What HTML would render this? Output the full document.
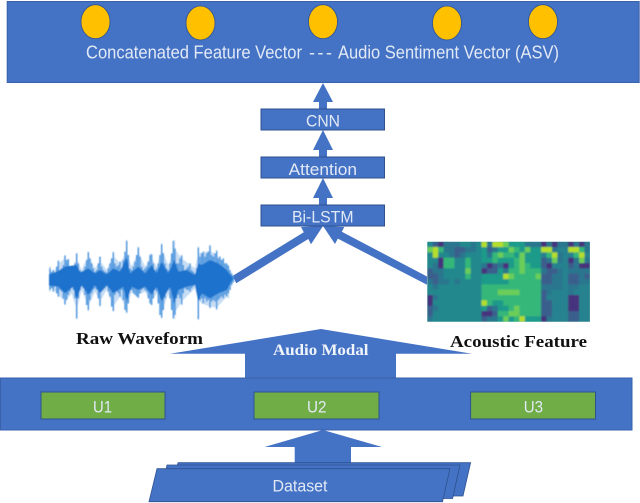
<!DOCTYPE html>
<html>
<head>
<meta charset="utf-8">
<style>
html,body{margin:0;padding:0;background:#fff;}
svg{display:block;}
.s{font-family:"Liberation Sans",sans-serif;fill:#e2e9f6;font-size:17px;}
.b{font-family:"Liberation Serif",serif;font-weight:bold;font-size:17px;fill:#111;}
</style>
</head>
<body>
<svg width="640" height="503" viewBox="0 0 640 503" xmlns="http://www.w3.org/2000/svg">
<defs>
<filter id="w" x="-5%" y="-5%" width="110%" height="110%"><feGaussianBlur stdDeviation="1.2"/></filter>
<filter id="h" x="-5%" y="-5%" width="110%" height="110%"><feGaussianBlur stdDeviation="0.14"/></filter>
<clipPath id="hc"><rect x="0" y="0" width="30" height="15"/></clipPath>
</defs>
<rect width="640" height="503" fill="#fff"/>

<!-- top box -->
<rect x="7.2" y="1.5" width="632" height="81" fill="#4472c4" stroke="#3a62ab" stroke-width="1"/>
<g fill="#ffc000" stroke="#2f528f" stroke-width="0.8">
<ellipse cx="95.5" cy="21.7" rx="14.5" ry="17"/>
<ellipse cx="200.5" cy="23" rx="14.5" ry="17"/>
<ellipse cx="323" cy="21.7" rx="14.5" ry="17"/>
<ellipse cx="447" cy="23" rx="14.5" ry="17"/>
<ellipse cx="543" cy="21.7" rx="14.5" ry="17"/>
</g>
<g style="font-size:18px">
<text class="s" style="font-size:18px" x="86" y="58.5" textLength="216" lengthAdjust="spacingAndGlyphs">Concatenated Feature Vector</text>
<text class="s" style="font-size:18px" x="309" y="58.5" textLength="23" lengthAdjust="spacing">---</text>
<text class="s" style="font-size:18px" x="338" y="58.5" textLength="221" lengthAdjust="spacingAndGlyphs">Audio Sentiment Vector (ASV)</text>
</g>

<!-- vertical arrows -->
<g fill="#4472c4">
<polygon points="323,83 333,102 327,102 327,109 319,109 319,102 313,102"/>
<polygon points="323,130 333,150 327,150 327,157 319,157 319,150 313,150"/>
<polygon points="323,178 333,198 327,198 327,205 319,205 319,198 313,198"/>
<!-- diagonal arrows -->
<polygon points="232.5,276 303.8,232.2 301,227 323,226 311,244.3 308.3,239 236.3,283.2"/>
<polygon points="427,276.5 341.8,231.8 344.3,227 323,226 335,244 337.8,238.6 427,284.8"/>
</g>

<!-- stack boxes -->
<g fill="#4472c4" stroke="#2f528f" stroke-width="1">
<rect x="261" y="109" width="123.5" height="21"/>
<rect x="261" y="157" width="123.5" height="21"/>
<rect x="261" y="205" width="123.5" height="21"/>
</g>
<text class="s" x="306" y="126.5" textLength="34" lengthAdjust="spacingAndGlyphs">CNN</text>
<text class="s" x="288.6" y="175" textLength="68.4" lengthAdjust="spacingAndGlyphs">Attention</text>
<text class="s" x="292" y="222.7" textLength="61.5" lengthAdjust="spacingAndGlyphs">Bi-LSTM</text>

<!-- waveform -->
<g transform="translate(45,235) scale(0.33333)" filter="url(#w)">
<path fill="none" stroke="#c4dcf3" stroke-width="5" d="M15 95V170M40 75V185M60 60V210M95 55V252M130 50V228M165 65V215M205 50V230M245 15V235M280 35V190M318 55V210M350 25V250M388 15V252M410 60V210M460 35V255M495 30V220M515 45V225M550 90V190"/>
<polygon fill="#c6ddf4" points="12,125 30,105 40,85 60,70 80,105 95,70 110,105 130,62 150,100 165,78 185,105 205,62 225,85 245,50 260,95 280,50 300,95 318,65 335,95 350,42 370,90 388,40 410,70 430,85 450,100 460,55 495,48 515,58 550,95 567,132 550,180 515,218 495,215 470,205 460,195 450,160 410,200 388,235 370,175 350,235 335,175 318,200 300,170 280,180 260,170 245,220 225,185 205,215 185,165 165,200 150,170 130,215 110,165 95,225 80,175 60,200 40,180 12,150"/>
<path fill="none" stroke="#3f92dd" stroke-width="4" d="M15 100V165M20 110V160M25 105V170M30 112V155M35 95V175M40 78V185M45 105V165M50 100V170M55 90V190M60 62V208M65 75V195M70 72V180M75 95V170M80 112V155M85 100V165M90 85V190M95 55V250M100 85V190M105 105V165M110 112V155M115 110V160M120 95V180M125 75V210M130 52V225M135 70V195M140 85V175M145 100V165M150 110V160M155 105V165M160 85V190M165 65V212M170 95V170M175 105V165M180 110V160M185 112V155M190 100V170M195 85V185M200 70V215M205 52V228M210 85V180M215 95V170M220 90V175M225 80V185M230 100V165M235 75V195M240 50V225M245 18V232M250 60V205M255 100V165M260 105V165M265 95V175M270 80V180M275 60V185M280 38V188M285 65V175M290 95V165M295 105V160M300 100V165M305 95V170M310 80V190M315 60V205M320 58V210M325 85V190M330 105V165M335 100V170M340 85V205M345 60V240M350 28V248M355 55V225M360 85V190M365 100V170M370 105V165M375 85V190M380 55V225M385 18V250M390 40V240M395 85V190M400 85V180M405 70V190M410 62V208M415 90V175M420 105V160M425 100V165M430 95V165M435 85V170M440 105V160M445 110V155M450 115V150M455 100V170M460 38V252M465 65V195M470 55V190M475 50V205M480 65V190M485 55V200M490 50V195M495 32V218M500 60V200M505 65V195M510 55V200M515 48V222M520 70V195M525 65V190M530 75V185M535 70V190M540 85V180M545 85V185M550 92V175M555 105V165M560 115V150M565 122V142"/>
<polygon fill="#1a72cc" points="12,118 40,108 60,95 95,90 105,112 130,100 150,115 165,105 185,118 205,100 225,110 245,65 255,115 280,95 300,115 320,90 335,115 350,80 370,115 388,75 400,110 425,105 450,120 460,85 470,90 495,75 520,85 545,105 565,130 545,165 520,175 495,190 470,175 460,200 450,150 425,155 400,165 388,205 375,155 350,200 335,155 320,180 300,155 280,165 260,155 245,200 235,155 205,175 185,150 165,175 150,150 130,180 110,150 95,195 85,155 60,175 40,155 12,152"/>
</g>

<!-- heatmap -->
<g transform="translate(427.3,241.7) scale(5.42,5.333)">
<g clip-path="url(#hc)"><g filter="url(#h)">
<rect x="-1" y="-1" width="32" height="17" fill="#23888e"/>
<rect x="10" y="-1" width="11" height="17" fill="#1f9a8a"/>
<rect x="15" y="5" width="6" height="9" fill="#35b779"/>
<rect x="10" y="8" width="5" height="3" fill="#35b779"/>
<rect x="21" y="-1" width="10" height="17" fill="#26828e"/>
<g fill="none" stroke-width="1.02">
<path stroke="#2a768e" d="M3 .5h3M8 .5h1M11 .5h1M18 .5h3M22 .5h1M24 .5h2M27 .5h1M29 .5h1M3 1.5h2M7 1.5h2M12 1.5h1M23 1.5h1M29 1.5h1M4 2.5h1M6 2.5h1M11 2.5h1M24 2.5h1M22 3.5h1M24 3.5h1M27 3.5h1M29 3.5h1M1 4.5h1M10 4.5h1M13 4.5h1M27 4.5h1M1 5.5h2M14 5.5h1M21 5.5h1M24 5.5h1M26 5.5h4M2 6.5h1M23 6.5h2M28 6.5h1M0 7.5h1M2 7.5h2M5 7.5h1M23 7.5h2M28 7.5h2M1 8.5h1M21 8.5h4M26 8.5h2M22 9.5h1M26 9.5h1M1 10.5h1M1 12.5h1M12 12.5h1M0 14.5h1M11 14.5h2M22 14.5h1"/>
<path stroke="#3a5f8d" d="M1 .5h1M5 1.5h2M11 1.5h1M5 2.5h1M21 3.5h1M12 4.5h1M21 4.5h1M26 4.5h1M0 5.5h1M11 5.5h2M22 5.5h2M0 6.5h2M21 6.5h2M26 6.5h2M29 6.5h1M1 7.5h1M21 7.5h2M26 7.5h2M21 9.5h1M21 10.5h1M21 11.5h2M0 12.5h1M11 12.5h1M21 12.5h2M0 13.5h1M12 13.5h1M21 13.5h2M26 13.5h2M10 14.5h1M26 14.5h2"/>
<path stroke="#46327e" d="M2 .5h1M21 .5h1M23 .5h1M26 .5h1M28 .5h1M2 3.5h1M26 3.5h1M2 4.5h1M11 4.5h1M22 4.5h1M28 4.5h2M14 4.5h1M10 5.5h1M0 10.5h1M26 10.5h2M0 11.5h1M26 11.5h2M26 12.5h2M10 13.5h2M21 14.5h1"/>
<path stroke="#35b779" d="M2 1.5h1M16 1.5h1M28 1.5h1M12 2.5h1M14 2.5h1M15 2.5h1M22 2.5h1M27 2.5h1M3 3.5h2M7 3.5h1M12 3.5h1M16 3.5h1M3 4.5h2M7 4.5h1M16 4.5h1M18 4.5h1M7 6.5h1M11 11.5h1M14 11.5h1M13 13.5h2M16 14.5h1"/>
<path stroke="#6cce59" d="M0 1.5h1M15 1.5h1M18 1.5h1M13 2.5h1M17 2.5h1M17 3.5h1M23 3.5h1M28 3.5h1M17 4.5h1M7 5.5h1M17 5.5h1M15 6.5h1M20 6.5h1M15 9.5h2M13 9.5h2M16 12.5h1M15 13.5h2M14 14.5h1M14 0.5h1"/>
<path stroke="#b5de2b" d="M10 .5h1M12 .5h2M1 1.5h1M21 1.5h2M26 1.5h2M1 2.5h1M23 2.5h1M28 2.5h1M14 6.5h1M10 11.5h1M17 14.5h1"/>
</g>
</g></g>
</g>

<!-- serif labels -->
<text class="b" x="76" y="344" textLength="127" lengthAdjust="spacingAndGlyphs">Raw Waveform</text>
<text class="b" x="450" y="347" textLength="137" lengthAdjust="spacingAndGlyphs">Acoustic Feature</text>

<!-- audio modal arrow -->
<polygon points="321,329 472,353.8 396,353.8 396,378 245,378 245,353.8 170,353.8" fill="#4472c4"/>
<text x="273" y="355" textLength="95.5" lengthAdjust="spacingAndGlyphs" style="font-family:'Liberation Serif',serif;font-weight:bold;font-size:15.5px;fill:#f0f4fb">Audio Modal</text>

<!-- utterance box -->
<rect x="0.5" y="378" width="631.5" height="52" fill="#4472c4" stroke="#3a62ab" stroke-width="1"/>
<g fill="#70ad47" stroke="#2f528f" stroke-width="1">
<rect x="41" y="392" width="124" height="27"/>
<rect x="254" y="392" width="125" height="27"/>
<rect x="470.6" y="392" width="124.9" height="27"/>
</g>
<text class="s" x="93" y="412.5" textLength="19" lengthAdjust="spacingAndGlyphs">U1</text>
<text class="s" x="307" y="412.5" textLength="19.5" lengthAdjust="spacingAndGlyphs">U2</text>
<text class="s" x="523.7" y="412.5" textLength="19.3" lengthAdjust="spacingAndGlyphs">U3</text>

<!-- dataset arrow -->
<polygon points="323,430 382,447 351,447 351,463 294.7,463 294.7,447 264.5,447" fill="#4472c4"/>

<!-- dataset -->
<g fill="#4472c4" stroke="#2f528f" stroke-width="0.8">
<polygon points="178,462.7 470.6,462.7 463,496 170,496"/>
<polygon points="167,465 460,465 452.6,498.5 160,498.5"/>
<polygon points="157,468.7 450,468.7 442.5,501.7 149,501.7"/>
</g>
<text class="s" x="272.5" y="491.7" textLength="55" lengthAdjust="spacingAndGlyphs">Dataset</text>
</svg>
</body>
</html>
